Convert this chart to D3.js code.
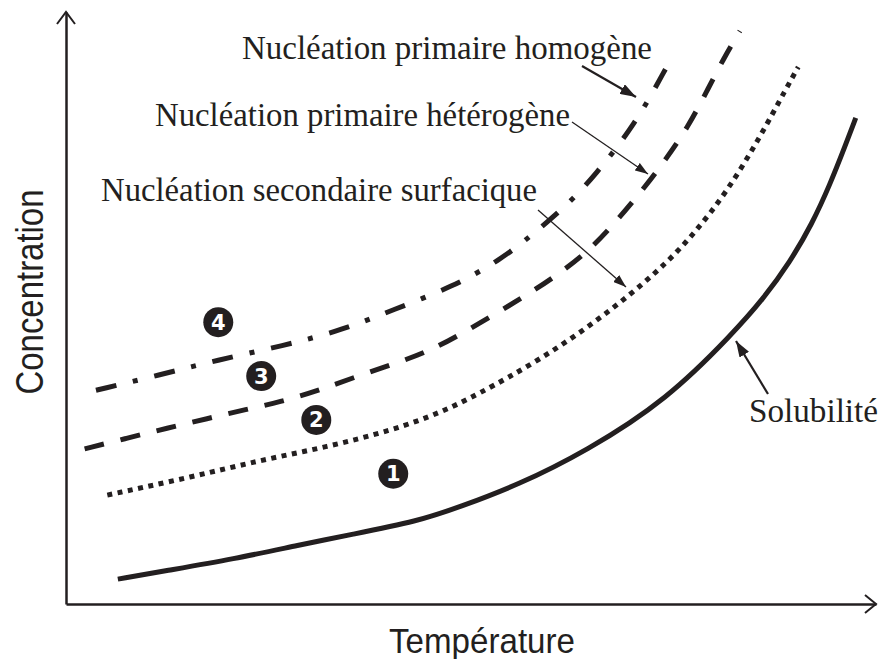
<!DOCTYPE html>
<html>
<head>
<meta charset="utf-8">
<script src="https://cdn.jsdelivr.net/npm/d3@7"></script>
<style>
    body { margin: 0; background: #fff; }
    svg { display: block; }
</style>
</head>
<body>
<div id="chart"></div>
<script>
// DATA: [température, concentration] in arbitrary units (0-100)

const solubilite = [[6.4, 4.2], [12.2, 5.6], [20.7, 7.6], [28.9, 10.0], [35.1, 11.7], [43.5, 14.0],
    [48.6, 16.4], [55.8, 20.1], [64.2, 25.8], [74.2, 34.5], [82.4, 45.8], [86.0, 51.4],
    [89.4, 57.8], [92.1, 64.2], [94.3, 70.8], [96.2, 77.4], [97.5, 82.1]];

const secondaire = [[5.1, 18.4], [15.7, 21.5], [24.0, 24.3], [32.2, 26.5], [40.4, 29.4], [46.2, 32.3],
    [50.7, 35.3], [58.5, 41.2], [66.3, 48.5], [73.3, 56.4], [77.4, 62.3], [81.6, 69.6],
    [85.7, 78.9], [89.0, 87.3], [90.4, 90.7]];

const heterogene = [[2.3, 26.2], [7.5, 28.0], [12.5, 29.7], [17.4, 31.3], [22.3, 32.9], [26.4, 34.1],
    [31.0, 36.0], [35.4, 38.2], [40.4, 40.5], [44.6, 42.6], [48.6, 45.4], [57.3, 52.5],
    [61.2, 56.1], [64.9, 60.1], [68.1, 64.9], [71.4, 70.3], [74.0, 75.0], [76.8, 80.6],
    [79.0, 86.3], [81.2, 92.2], [83.2, 96.8]];

const homogene = [[3.7, 36.1], [11.6, 38.7], [18.6, 41.2], [26.8, 43.6], [34.2, 46.3], [40.4, 49.7],
    [47.8, 53.6], [53.6, 58.1], [57.5, 62.3], [60.4, 65.7], [63.1, 69.1], [65.6, 73.0],
    [67.9, 76.9], [70.1, 81.1], [72.0, 85.3], [73.8, 89.9], [74.7, 91.9]];

// numbered zones between the curves
const zoneLabels = ["1", "2", "3", "4"];
const zoneT = [40.4, 30.9, 24.1, 18.8];
const zoneC = [22.0, 31.1, 38.5, 47.6];

const xTitle = "Température";
const yTitle = "Concentration";

const width = 880, height = 659;
const margin = { top: 12, right: 4, bottom: 55, left: 66 };
const ink = "#231f20";

const x = d3.scaleLinear()
    .domain([0, 100])
    .range([margin.left, width - margin.right]);

const y = d3.scaleLinear()
    .domain([0, 100])
    .range([height - margin.bottom, margin.top]);

const svg = d3.select("#chart").append("svg")
    .attr("width", width)
    .attr("height", height);

// arrow heads for the annotations
const defs = svg.append("defs");
[["headBig", 16, 11], ["headSmall", 13, 9]].forEach(([id, w, h]) => {
    defs.append("marker")
        .attr("id", id)
        .attr("viewBox", "0 0 " + w + " " + h)
        .attr("refX", w)
        .attr("refY", h / 2)
        .attr("markerWidth", w)
        .attr("markerHeight", h)
        .attr("markerUnits", "userSpaceOnUse")
        .attr("orient", "auto")
        .append("path")
        .attr("d", "M0,0L" + w + "," + (h / 2) + "L0," + h + "Z")
        .attr("fill", ink);
});

// AXES (no ticks, arrow tips)

svg.append("g")
    .attr("transform", "translate(0," + y(0) + ")")
    .call(d3.axisBottom(x).ticks(0).tickSizeOuter(0))
    .call(g => g.select(".domain").attr("stroke", ink).attr("stroke-width", 2.5));

svg.append("g")
    .attr("transform", "translate(" + x(0) + ",0)")
    .call(d3.axisLeft(y).ticks(0).tickSizeOuter(0))
    .call(g => g.select(".domain").attr("stroke", ink).attr("stroke-width", 2.5));

svg.append("path")
    .attr("d", "M" + (x(100) - 11) + "," + (y(0) - 9) + "L" + x(100) + "," + y(0) + "L" + (x(100) - 11) + "," + (y(0) + 9))
    .attr("fill", "none").attr("stroke", ink).attr("stroke-width", 2);

svg.append("path")
    .attr("d", "M" + (x(0) - 9) + "," + (y(100) + 12) + "L" + x(0) + "," + y(100) + "L" + (x(0) + 9) + "," + (y(100) + 12))
    .attr("fill", "none").attr("stroke", ink).attr("stroke-width", 2);

svg.append("text")
    .attr("x", 482)
    .attr("y", 653)
    .attr("text-anchor", "middle")
    .attr("textLength", 186)
    .attr("lengthAdjust", "spacingAndGlyphs")
    .style("font-family", "'Liberation Sans', Arial, sans-serif")
    .style("font-size", "35px")
    .attr("fill", ink)
    .text(xTitle);

svg.append("text")
    .attr("transform", "translate(43,292) rotate(-90)")
    .attr("text-anchor", "middle")
    .attr("textLength", 205)
    .attr("lengthAdjust", "spacingAndGlyphs")
    .style("font-family", "'Liberation Sans', Arial, sans-serif")
    .style("font-size", "39px")
    .attr("fill", ink)
    .text(yTitle);

// CURVES

const line = d3.line()
    .x(d => x(d[0]))
    .y(d => y(d[1]))
    .curve(d3.curveBasis);

const curves = [
    { data: solubilite, dash: null, w: 5 },
    { data: secondaire, dash: "5,5.5", w: 5 },
    { data: heterogene, dash: "20,17", w: 5 },
    { data: homogene, dash: "21,17,5,17", w: 5 }
];

svg.selectAll(".curve")
    .data(curves)
    .join("path")
    .attr("class", "curve")
    .attr("d", d => line(d.data))
    .attr("fill", "none")
    .attr("stroke", ink)
    .attr("stroke-width", d => d.w)
    .attr("stroke-dasharray", d => d.dash);

// ZONE NUMBERS

const zones = svg.selectAll(".zone")
    .data(zoneLabels)
    .join("g")
    .attr("class", "zone")
    .attr("transform", (d, i) => "translate(" + x(zoneT[i]) + "," + y(zoneC[i]) + ")");

zones.append("circle")
    .attr("r", 15)
    .attr("fill", ink);

zones.append("text")
    .attr("text-anchor", "middle")
    .attr("dy", "0.36em")
    .style("font-family", "'DejaVu Sans', sans-serif")
    .style("font-weight", "bold")
    .style("font-size", "21px")
    .attr("fill", "#fff")
    .text(d => d);

// ANNOTATIONS

const notes = [
    { text: "Nucléation primaire homogène", x: 242, y: 59, len: 410, from: [582, 66], to: [636, 97], w: 2.2, head: "headBig" },
    { text: "Nucléation primaire hétérogène", x: 155, y: 126, len: 415, from: [572, 122], to: [648, 174], w: 1.3, head: "headSmall" },
    { text: "Nucléation secondaire surfacique", x: 101, y: 201, len: 436, from: [538, 210], to: [626, 287], w: 1.3, head: "headSmall" },
    { text: "Solubilité", x: 749, y: 422, len: 129, from: [768, 394], to: [736, 341], w: 2.2, head: "headBig" }
];

svg.selectAll(".note-text")
    .data(notes)
    .join("text")
    .attr("class", "note-text")
    .attr("x", d => d.x)
    .attr("y", d => d.y)
    .attr("textLength", d => d.len)
    .attr("lengthAdjust", "spacingAndGlyphs")
    .style("font-family", "'Liberation Serif', 'Times New Roman', serif")
    .style("font-size", "33px")
    .attr("fill", ink)
    .text(d => d.text);

svg.selectAll(".note-arrow")
    .data(notes)
    .join("line")
    .attr("class", "note-arrow")
    .attr("x1", d => d.from[0])
    .attr("y1", d => d.from[1])
    .attr("x2", d => d.to[0])
    .attr("y2", d => d.to[1])
    .attr("stroke", ink)
    .attr("stroke-width", d => d.w)
    .attr("marker-end", d => "url(#" + d.head + ")");
</script>
</body>
</html>
